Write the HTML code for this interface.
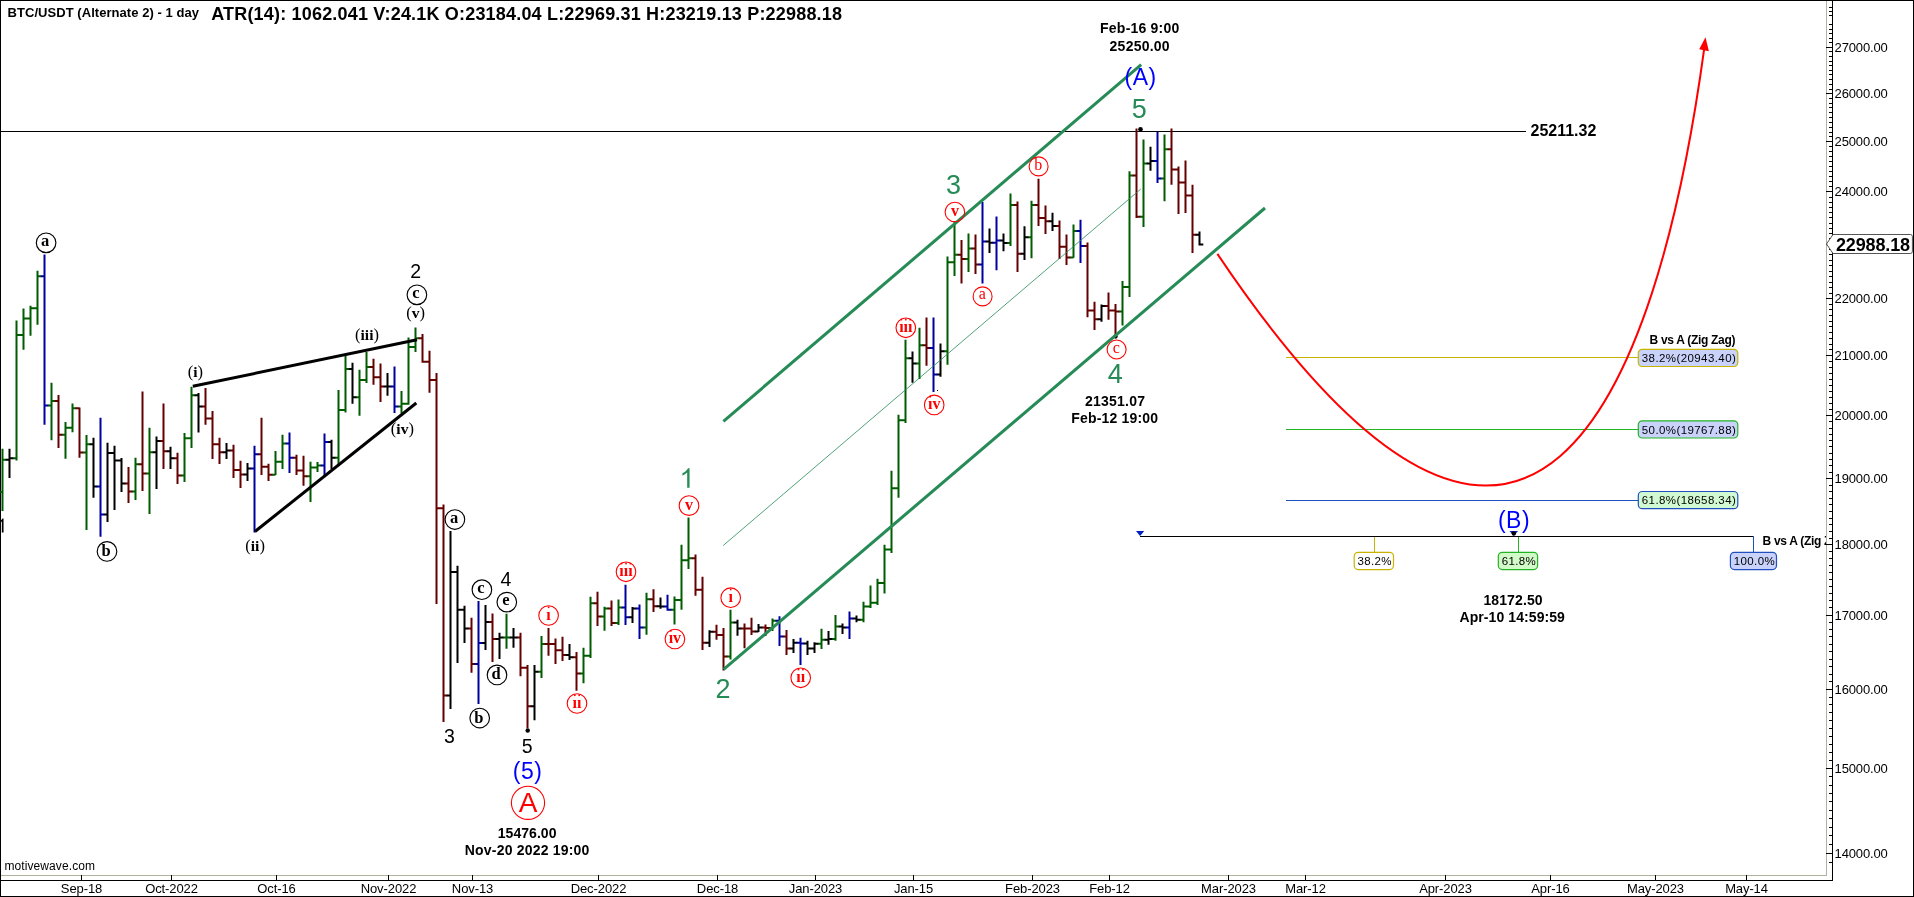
<!DOCTYPE html><html><head><meta charset="utf-8"><title>BTC/USDT</title>
<style>html,body{margin:0;padding:0;background:#fff;}body{width:1914px;height:897px;overflow:hidden;}svg{display:block;will-change:transform;}text{font-family:"Liberation Sans", sans-serif;}</style>
</head><body>
<svg width="1914" height="897" viewBox="0 0 1914 897">
<rect x="0" y="0" width="1914" height="897" fill="#ffffff"/>
<g shape-rendering="crispEdges">
<rect x="0.5" y="0.5" width="1913" height="896" fill="none" stroke="#000" stroke-width="1"/>
<path d="M1 875.5H1827M1826.5 1V876" stroke="#b2b2a0" stroke-width="1" fill="none"/>
<path d="M1 880.5H1833M1832.5 1V881" stroke="#000" stroke-width="1" fill="none"/>
<path d="M1829 862.5H1832M1826 853.5H1832M1829 844.5H1832M1829 835.5H1832M1829 827.5H1832M1829 818.5H1832M1829 810.5H1832M1829 801.5H1832M1829 793.5H1832M1829 785.5H1832M1829 776.5H1832M1826 768.5H1832M1829 760.5H1832M1829 752.5H1832M1829 744.5H1832M1829 736.5H1832M1829 728.5H1832M1829 720.5H1832M1829 712.5H1832M1829 704.5H1832M1829 697.5H1832M1826 689.5H1832M1829 681.5H1832M1829 674.5H1832M1829 666.5H1832M1829 659.5H1832M1829 651.5H1832M1829 644.5H1832M1829 636.5H1832M1829 629.5H1832M1829 622.5H1832M1826 615.5H1832M1829 607.5H1832M1829 600.5H1832M1829 593.5H1832M1829 586.5H1832M1829 579.5H1832M1829 572.5H1832M1829 565.5H1832M1829 558.5H1832M1829 551.5H1832M1826 544.5H1832M1829 538.5H1832M1829 531.5H1832M1829 524.5H1832M1829 518.5H1832M1829 511.5H1832M1829 504.5H1832M1829 498.5H1832M1829 491.5H1832M1829 485.5H1832M1826 478.5H1832M1829 472.5H1832M1829 465.5H1832M1829 459.5H1832M1829 453.5H1832M1829 446.5H1832M1829 440.5H1832M1829 434.5H1832M1829 428.5H1832M1829 421.5H1832M1826 415.5H1832M1829 409.5H1832M1829 403.5H1832M1829 397.5H1832M1829 391.5H1832M1829 385.5H1832M1829 379.5H1832M1829 373.5H1832M1829 367.5H1832M1829 361.5H1832M1826 355.5H1832M1829 349.5H1832M1829 344.5H1832M1829 338.5H1832M1829 332.5H1832M1829 326.5H1832M1829 321.5H1832M1829 315.5H1832M1829 309.5H1832M1829 304.5H1832M1826 298.5H1832M1829 293.5H1832M1829 287.5H1832M1829 282.5H1832M1829 276.5H1832M1829 271.5H1832M1829 265.5H1832M1829 260.5H1832M1829 254.5H1832M1829 249.5H1832M1826 244.5H1832M1829 238.5H1832M1829 233.5H1832M1829 228.5H1832M1829 223.5H1832M1829 217.5H1832M1829 212.5H1832M1829 207.5H1832M1829 202.5H1832M1829 197.5H1832M1826 191.5H1832M1829 186.5H1832M1829 181.5H1832M1829 176.5H1832M1829 171.5H1832M1829 166.5H1832M1829 161.5H1832M1829 156.5H1832M1829 151.5H1832M1829 146.5H1832M1826 141.5H1832M1829 136.5H1832M1829 132.5H1832M1829 127.5H1832M1829 122.5H1832M1829 117.5H1832M1829 112.5H1832M1829 107.5H1832M1829 103.5H1832M1829 98.5H1832M1826 93.5H1832M1829 89.5H1832M1829 84.5H1832M1829 79.5H1832M1829 74.5H1832M1829 70.5H1832M1829 65.5H1832M1829 61.5H1832M1829 56.5H1832M1829 51.5H1832M1826 47.5H1832M1829 42.5H1832M1829 38.5H1832M1829 33.5H1832M1829 29.5H1832M1829 24.5H1832M1829 15.5H1832M1829 11.5H1832M1829 7.5H1832" stroke="#000" stroke-width="1" fill="none"/>
<path d="M81.5 875V880M171.5 875V880M276.5 875V880M388.5 875V880M472.5 875V880M598.5 875V880M717.5 875V880M815.5 875V880M913.5 875V880M1032.5 875V880M1109.5 875V880M1228.5 875V880M1305.5 875V880M1445.5 875V880M1550.5 875V880M1655.5 875V880M1746.5 875V880" stroke="#000" stroke-width="1" fill="none"/>
</g>
<text x="1834.6" y="857.8" font-size="13" letter-spacing="-0.15">14000.00</text>
<text x="1834.6" y="773.1" font-size="13" letter-spacing="-0.15">15000.00</text>
<text x="1834.6" y="693.9" font-size="13" letter-spacing="-0.15">16000.00</text>
<text x="1834.6" y="619.5" font-size="13" letter-spacing="-0.15">17000.00</text>
<text x="1834.6" y="549.4" font-size="13" letter-spacing="-0.15">18000.00</text>
<text x="1834.6" y="483.0" font-size="13" letter-spacing="-0.15">19000.00</text>
<text x="1834.6" y="420.1" font-size="13" letter-spacing="-0.15">20000.00</text>
<text x="1834.6" y="360.2" font-size="13" letter-spacing="-0.15">21000.00</text>
<text x="1834.6" y="303.1" font-size="13" letter-spacing="-0.15">22000.00</text>
<text x="1834.6" y="196.3" font-size="13" letter-spacing="-0.15">24000.00</text>
<text x="1834.6" y="146.2" font-size="13" letter-spacing="-0.15">25000.00</text>
<text x="1834.6" y="98.1" font-size="13" letter-spacing="-0.15">26000.00</text>
<text x="1834.6" y="51.8" font-size="13" letter-spacing="-0.15">27000.00</text>
<text x="81.5" y="892.7" font-size="13" text-anchor="middle" letter-spacing="-0.1">Sep-18</text>
<text x="171.5" y="892.7" font-size="13" text-anchor="middle" letter-spacing="-0.1">Oct-2022</text>
<text x="276.5" y="892.7" font-size="13" text-anchor="middle" letter-spacing="-0.1">Oct-16</text>
<text x="388.5" y="892.7" font-size="13" text-anchor="middle" letter-spacing="-0.1">Nov-2022</text>
<text x="472.5" y="892.7" font-size="13" text-anchor="middle" letter-spacing="-0.1">Nov-13</text>
<text x="598.5" y="892.7" font-size="13" text-anchor="middle" letter-spacing="-0.1">Dec-2022</text>
<text x="717.5" y="892.7" font-size="13" text-anchor="middle" letter-spacing="-0.1">Dec-18</text>
<text x="815.5" y="892.7" font-size="13" text-anchor="middle" letter-spacing="-0.1">Jan-2023</text>
<text x="913.5" y="892.7" font-size="13" text-anchor="middle" letter-spacing="-0.1">Jan-15</text>
<text x="1032.5" y="892.7" font-size="13" text-anchor="middle" letter-spacing="-0.1">Feb-2023</text>
<text x="1109.5" y="892.7" font-size="13" text-anchor="middle" letter-spacing="-0.1">Feb-12</text>
<text x="1228.5" y="892.7" font-size="13" text-anchor="middle" letter-spacing="-0.1">Mar-2023</text>
<text x="1305.5" y="892.7" font-size="13" text-anchor="middle" letter-spacing="-0.1">Mar-12</text>
<text x="1445.5" y="892.7" font-size="13" text-anchor="middle" letter-spacing="-0.1">Apr-2023</text>
<text x="1550.5" y="892.7" font-size="13" text-anchor="middle" letter-spacing="-0.1">Apr-16</text>
<text x="1655.5" y="892.7" font-size="13" text-anchor="middle" letter-spacing="-0.1">May-2023</text>
<text x="1746.5" y="892.7" font-size="13" text-anchor="middle" letter-spacing="-0.1">May-14</text>
<text x="7.6" y="17.4" font-size="13" font-weight="bold" textLength="191.4" lengthAdjust="spacing">BTC/USDT (Alternate 2) - 1 day</text>
<text x="211.2" y="19.7" font-size="18" font-weight="bold" textLength="630.8" lengthAdjust="spacing">ATR(14): 1062.041 V:24.1K O:23184.04 L:22969.31 H:23219.13 P:22988.18</text>
<text x="4.4" y="869.8" font-size="12" letter-spacing="0.1">motivewave.com</text>
<g shape-rendering="crispEdges">
<path d="M1 131.5H1526" stroke="#000" stroke-width="1"/>
<path d="M1286 357.5H1638" stroke="#c8b400" stroke-width="1"/>
<path d="M1286 429.5H1638" stroke="#22b422" stroke-width="1"/>
<path d="M1286 500.5H1638" stroke="#2050c0" stroke-width="1"/>
<path d="M1140 536.5H1754" stroke="#000" stroke-width="1"/>
<path d="M1374.5 537V552" stroke="#c8b400" stroke-width="1"/>
<path d="M1518.5 537V552" stroke="#22b422" stroke-width="1"/>
<path d="M1753.5 536V552" stroke="#2050c0" stroke-width="1"/>
</g>
<path d="M2.5 448.8V511.0M-1.3 492.0H2.5M2.5 459.7H6.3M16.5 320.5V460.5M12.7 458.3H16.5M16.5 335.1H20.3M23.5 308.5V349.7M19.7 335.1H23.5M23.5 318.6H27.3M30.5 305.8V335.8M26.7 318.6H30.5M30.5 308.3H34.3M37.5 270.7V324.8M33.7 308.3H37.5M37.5 276.3H41.3M51.5 382.7V440.2M47.7 405.4H51.5M51.5 401.0H55.3M65.5 421.9V458.8M61.7 434.8H65.5M65.5 427.8H69.3M72.5 403.6V432.2M68.7 427.8H72.5M72.5 408.3H76.3M86.5 435.0V530.0M82.7 452.6H86.5M86.5 444.2H90.3M135.5 457.8V500.0M131.7 491.5H135.5M135.5 464.2H139.3M149.5 427.8V513.9M145.7 473.6H149.5M149.5 452.3H153.3M184.5 432.9V482.1M180.7 475.4H184.5M184.5 438.3H188.3M191.5 386.8V448.0M187.7 438.3H191.5M191.5 395.3H195.3M275.5 451.0V475.0M271.7 474.8H275.5M275.5 461.7H279.3M282.5 434.7V469.0M278.7 461.7H282.5M282.5 443.5H286.3M310.5 461.7V501.9M306.7 476.3H310.5M310.5 467.5H314.3M317.5 462.1V471.9M313.7 467.5H317.5M317.5 465.6H321.3M338.5 389.9V463.9M334.7 457.7H338.5M338.5 410.0H342.3M345.5 355.5V412.5M341.7 410.0H345.5M345.5 369.0H349.3M359.5 369.7V415.8M355.7 397.2H359.5M359.5 380.0H363.3M366.5 351.9V382.9M362.7 380.0H366.5M366.5 367.1H370.3M401.5 391.0V413.6M397.7 406.6H401.5M401.5 403.7H405.3M408.5 337.6V404.8M404.7 403.7H408.5M408.5 347.1H412.3M415.5 327.6V351.9M411.7 347.1H415.5M415.5 338.3H419.3M506.5 613.8V648.8M502.7 637.4H506.5M506.5 637.4H510.3M541.5 636.0V678.0M537.7 671.8H541.5M541.5 644.0H545.3M583.5 647.7V683.2M579.7 673.6H583.5M583.5 655.7H587.3M590.5 596.8V657.9M586.7 655.7H590.5M590.5 603.2H594.3M604.5 606.7V630.8M600.7 616.4H604.5M604.5 608.4H608.3M618.5 599.5V625.0M614.7 623.0H618.5M618.5 607.4H622.3M646.5 592.8V634.8M642.7 627.5H646.5M646.5 599.2H650.3M674.5 596.6V624.6M670.7 609.7H674.5M674.5 600.1H678.3M681.5 544.8V609.7M677.7 600.1H681.5M681.5 560.3H685.3M688.5 517.6V568.9M684.7 560.3H688.5M688.5 558.2H692.3M730.5 609.7V659.5M726.7 656.5H730.5M730.5 622.6H734.3M772.5 618.5V631.0M768.7 628.0H772.5M772.5 620.7H776.3M821.5 628.8V648.9M817.7 643.7H821.5M821.5 639.7H825.3M835.5 614.9V640.7M831.7 639.0H835.5M835.5 626.6H839.3M863.5 601.7V622.2M859.7 619.7H863.5M863.5 606.5H867.3M870.5 585.6V608.0M866.7 606.5H870.5M870.5 602.7H874.3M877.5 578.7V605.0M873.7 602.7H877.5M877.5 583.0H881.3M884.5 544.8V593.4M880.7 583.0H884.5M884.5 549.5H888.3M891.5 470.7V553.0M887.7 549.5H891.5M891.5 488.3H895.3M898.5 414.7V497.8M894.7 488.3H898.5M898.5 420.2H902.3M905.5 339.8V423.0M901.7 420.2H905.5M905.5 358.2H909.3M919.5 327.8V379.0M915.7 363.6H919.5M919.5 345.3H923.3M947.5 256.6V364.7M943.7 351.2H947.5M947.5 262.2H951.3M954.5 221.0V276.0M950.7 262.2H954.5M954.5 254.8H958.3M968.5 233.6V272.0M964.7 259.0H968.5M968.5 248.6H972.3M1010.5 193.4V246.0M1006.7 243.0H1010.5M1010.5 205.0H1014.3M1031.5 200.7V258.2M1027.7 237.3H1031.5M1031.5 205.0H1035.3M1073.5 224.6V257.8M1069.7 257.5H1073.5M1073.5 231.0H1077.3M1122.5 280.9V325.6M1118.7 311.4H1122.5M1122.5 287.0H1126.3M1129.5 171.2V297.0M1125.7 287.0H1129.5M1129.5 175.4H1133.3M1143.5 139.5V226.9M1139.7 216.8H1143.5M1143.5 163.4H1147.3M1164.5 134.5V201.2M1160.7 178.5H1164.5M1164.5 149.2H1168.3" stroke="#005c00" stroke-width="2" fill="none"/>
<path d="M58.5 394.9V448.0M54.7 401.0H58.5M58.5 434.8H62.3M79.5 407.6V457.8M75.7 408.3H79.5M79.5 452.6H83.3M128.5 467.0V502.9M124.7 483.4H128.5M128.5 491.5H132.3M142.5 391.5V490.9M138.7 464.2H142.5M142.5 473.6H146.3M163.5 403.6V469.0M159.7 441.0H163.5M163.5 451.2H167.3M177.5 452.8V483.9M173.7 458.3H177.5M177.5 475.4H181.3M205.5 388.0V424.8M201.7 406.6H205.5M205.5 418.6H209.3M212.5 411.0V459.0M208.7 418.6H212.5M212.5 444.2H216.3M219.5 437.7V463.9M215.7 444.2H219.5M219.5 452.3H223.3M233.5 444.8V478.0M229.7 450.4H233.5M233.5 470.0H237.3M240.5 460.8V488.0M236.7 470.0H240.5M240.5 474.4H244.3M261.5 417.8V475.1M257.7 454.2H261.5M261.5 466.8H265.3M268.5 463.7V481.0M264.7 466.8H268.5M268.5 474.8H272.3M296.5 454.8V474.9M292.7 457.7H296.5M296.5 470.5H300.3M303.5 455.8V485.8M299.7 470.5H303.5M303.5 476.3H307.3M373.5 358.8V384.7M369.7 367.1H373.5M373.5 377.3H377.3M380.5 363.6V401.9M376.7 377.3H380.5M380.5 386.6H384.3M422.5 333.9V362.7M418.7 338.3H422.5M422.5 361.7H426.3M429.5 350.7V392.7M425.7 361.7H429.5M429.5 380.0H433.3M436.5 373.0V603.9M432.7 380.0H436.5M436.5 508.3H440.3M443.5 504.6V722.0M439.7 508.3H443.5M443.5 695.5H447.3M471.5 617.8V672.8M467.7 628.4H471.5M471.5 664.0H475.3M492.5 613.6V662.0M488.7 622.0H492.5M492.5 638.9H496.3M520.5 632.7V676.2M516.7 637.4H520.5M520.5 667.8H524.3M527.5 664.9V728.3M523.7 667.8H527.5M527.5 706.3H531.3M548.5 627.9V655.7M544.7 644.0H548.5M548.5 644.0H552.3M555.5 638.6V664.0M551.7 644.0H555.5M555.5 650.3H559.3M562.5 636.7V661.0M558.7 650.3H562.5M562.5 655.0H566.3M576.5 652.0V690.8M572.7 657.2H576.5M576.5 673.6H580.3M597.5 591.7V626.0M593.7 603.2H597.5M597.5 616.4H601.3M611.5 600.5V626.0M607.7 608.4H611.5M611.5 623.0H615.3M653.5 589.2V612.0M649.7 599.2H653.5M653.5 606.3H657.3M695.5 554.6V595.8M691.7 558.2H695.5M695.5 589.7H699.3M702.5 576.7V650.0M698.7 589.7H702.5M702.5 642.7H706.3M716.5 624.7V639.7M712.7 631.7H716.5M716.5 634.9H720.3M723.5 628.0V670.4M719.7 634.9H723.5M723.5 656.5H727.3M744.5 623.6V648.2M740.7 628.5H744.5M744.5 628.5H748.3M751.5 617.8V634.9M747.7 628.5H751.5M751.5 631.4H755.3M765.5 624.4V636.0M761.7 627.6H765.5M765.5 628.0H769.3M786.5 630.0V655.0M782.7 636.4H786.5M786.5 648.5H790.3M926.5 317.6V365.8M922.7 345.3H926.5M926.5 348.0H930.3M961.5 239.9V283.4M957.7 254.8H961.5M961.5 259.0H965.3M975.5 234.4V274.0M971.7 248.6H975.5M975.5 264.4H979.3M1017.5 201.5V272.0M1013.7 205.0H1017.5M1017.5 253.7H1021.3M1038.5 178.8V225.9M1034.7 205.0H1038.5M1038.5 218.0H1042.3M1045.5 205.5V234.0M1041.7 218.0H1045.5M1045.5 221.2H1049.3M1059.5 220.5V258.9M1055.7 225.9H1059.5M1059.5 246.8H1063.3M1066.5 234.4V265.0M1062.7 246.8H1066.5M1066.5 257.5H1070.3M1087.5 242.4V317.3M1083.7 246.0H1087.5M1087.5 310.5H1091.3M1094.5 301.8V330.0M1090.7 310.5H1094.5M1094.5 319.3H1098.3M1108.5 292.6V319.7M1104.7 306.1H1108.5M1108.5 310.5H1112.3M1115.5 304.0V336.9M1111.7 310.5H1115.5M1115.5 311.4H1119.3M1136.5 128.6V218.0M1132.7 175.4H1136.5M1136.5 216.8H1140.3M1171.5 128.6V184.8M1167.7 149.2H1171.5M1171.5 169.6H1175.3M1178.5 166.5V214.1M1174.7 169.6H1178.5M1178.5 182.4H1182.3M1185.5 160.6V212.9M1181.7 182.4H1185.5M1185.5 195.4H1189.3M1192.5 184.8V253.0M1188.7 195.4H1192.5M1192.5 234.7H1196.3" stroke="#640000" stroke-width="2" fill="none"/>
<path d="M9.5 448.8V478.0M5.7 459.7H9.5M9.5 458.3H13.3M93.5 437.7V497.8M89.7 444.2H93.5M93.5 486.5H97.3M107.5 442.8V521.9M103.7 514.6H107.5M107.5 453.0H111.3M114.5 445.8V509.9M110.7 453.0H114.5M114.5 460.4H118.3M121.5 458.0V491.9M117.7 460.4H121.5M121.5 483.4H125.3M156.5 436.5V489.0M152.7 452.3H156.5M156.5 441.0H160.3M170.5 446.7V469.0M166.7 451.2H170.5M170.5 458.3H174.3M198.5 393.0V432.5M194.7 395.3H198.5M198.5 406.6H202.3M226.5 442.9V459.0M222.7 452.3H226.5M226.5 450.4H230.3M247.5 463.0V481.0M243.7 474.4H247.5M247.5 468.6H251.3M331.5 439.8V469.0M327.7 442.0H331.5M331.5 457.7H335.3M352.5 362.7V403.7M348.7 369.0H352.5M352.5 397.2H356.3M387.5 373.0V395.8M383.7 386.6H387.5M387.5 386.6H391.3M450.5 531.0V708.9M446.7 695.5H450.5M450.5 571.9H454.3M457.5 565.8V663.0M453.7 571.9H457.5M457.5 609.8H461.3M464.5 605.8V643.0M460.7 609.8H464.5M464.5 628.4H468.3M485.5 604.9V649.9M481.7 643.0H485.5M485.5 622.0H489.3M499.5 632.7V658.9M495.7 638.9H499.5M499.5 637.4H503.3M513.5 627.9V647.7M509.7 637.4H513.5M513.5 637.4H517.3M534.5 664.9V720.2M530.7 706.3H534.5M534.5 671.8H538.3M569.5 644.0V660.0M565.7 655.0H569.5M569.5 657.2H573.3M632.5 607.0V623.0M628.7 617.2H632.5M632.5 608.4H636.3M660.5 597.5V608.7M656.7 606.3H660.5M660.5 606.6H664.3M709.5 630.2V647.0M705.7 642.7H709.5M709.5 631.7H713.3M737.5 619.7V635.8M733.7 622.6H737.5M737.5 628.5H741.3M758.5 623.9V632.0M754.7 631.4H758.5M758.5 627.6H762.3M793.5 639.0V652.9M789.7 648.5H793.5M793.5 642.7H797.3M807.5 640.7V655.0M803.7 643.4H807.5M807.5 648.5H811.3M814.5 642.2V652.9M810.7 648.5H814.5M814.5 643.7H818.3M828.5 630.9V644.8M824.7 639.7H828.5M828.5 639.0H832.3M842.5 623.6V633.9M838.7 626.6H842.5M842.5 627.6H846.3M856.5 615.6V622.2M852.7 618.5H856.5M856.5 619.7H860.3M912.5 351.5V382.7M908.7 358.2H912.5M912.5 363.6H916.3M940.5 343.6V376.8M936.7 374.6H940.5M940.5 351.2H944.3M989.5 228.5V253.0M985.7 241.4H989.5M989.5 242.8H993.3M1003.5 233.6V251.2M999.7 240.5H1003.5M1003.5 243.0H1007.3M1024.5 226.3V260.0M1020.7 253.7H1024.5M1024.5 237.3H1028.3M1052.5 212.7V231.0M1048.7 221.2H1052.5M1052.5 225.9H1056.3M1101.5 304.4V321.7M1097.7 319.3H1101.5M1101.5 306.1H1105.3M1150.5 146.8V170.7M1146.7 163.4H1150.5M1150.5 160.9H1154.3M1199.5 231.6V245.6M1195.7 234.7H1199.5M1199.5 244.5H1203.3" stroke="#000000" stroke-width="2" fill="none"/>
<path d="M44.5 254.6V424.8M40.7 276.3H44.5M44.5 405.4H48.3M100.5 417.8V536.8M96.7 486.5H100.5M100.5 514.6H104.3M254.5 445.8V532.4M250.7 468.6H254.5M254.5 454.2H258.3M289.5 432.6V473.0M285.7 443.5H289.5M289.5 457.7H293.3M324.5 433.5V474.9M320.7 465.6H324.5M324.5 442.0H328.3M394.5 366.5V412.9M390.7 386.6H394.5M394.5 406.6H398.3M478.5 600.9V704.1M474.7 664.0H478.5M478.5 643.0H482.3M625.5 584.8V625.0M621.7 607.4H625.5M625.5 617.2H629.3M639.5 604.6V638.9M635.7 608.4H639.5M639.5 627.5H643.3M667.5 594.7V610.8M663.7 606.6H667.5M667.5 609.7H671.3M779.5 616.3V646.0M775.7 620.7H779.5M779.5 636.4H783.3M800.5 637.8V665.0M796.7 642.7H800.5M800.5 643.4H804.3M849.5 611.5V639.0M845.7 627.6H849.5M849.5 618.5H853.3M933.5 317.6V391.9M929.7 348.0H933.5M933.5 374.6H937.3M982.5 201.9V283.4M978.7 264.4H982.5M982.5 241.4H986.3M996.5 216.5V270.2M992.7 242.8H996.5M996.5 240.5H1000.3M1080.5 219.7V262.9M1076.7 231.0H1080.5M1080.5 246.0H1084.3M1157.5 131.7V182.9M1153.7 160.9H1157.5M1157.5 178.5H1161.3" stroke="#0000a0" stroke-width="2" fill="none"/>
<circle cx="1115.6" cy="336.6" r="2.1" fill="#000"/>
<line x1="723.4" y1="421.3" x2="1141.2" y2="64.6" stroke="#268b56" stroke-width="3.05" />
<line x1="723.6" y1="669.4" x2="1265" y2="208" stroke="#268b56" stroke-width="3.05" />
<line x1="723.2" y1="545.5" x2="1140.8" y2="189" stroke="#268b56" stroke-width="1" stroke-opacity="0.8"/>
<line x1="192.8" y1="386.3" x2="417" y2="339.7" stroke="#000" stroke-width="3.0" />
<line x1="255" y1="531.5" x2="416.3" y2="403" stroke="#000" stroke-width="3.0" />
<path d="M1217.4 253.9C1529.7 718.4 1656.6 397.4 1704.3 48" stroke="#ff0000" stroke-width="2" fill="none"/>
<polygon points="1705.5,37.3 1699.2,49.3 1708.9,51.2" fill="#ff0000"/>
<rect x="937" y="390" width="1" height="1" fill="#000"/>
<circle cx="527.7" cy="730.5" r="2.2" fill="#000"/>
<circle cx="1140.5" cy="129.3" r="2.3" fill="#000"/>
<polygon points="1136,531 1144.2,531 1140.1,536" fill="#0020c0"/>
<polygon points="1509.5,531 1518,531 1513.8,536" fill="#0020c0"/>
<circle cx="1513.8" cy="533.4" r="2.2" fill="#000"/>
<circle cx="46.1" cy="242.8" r="9.8" fill="none" stroke="#000" stroke-width="1.15"/>
<text x="45.2" y="245.8" font-size="16.5" text-anchor="middle" fill="#000" style="font-family:'Liberation Serif', serif;font-weight:bold;">a</text>
<circle cx="107.0" cy="551.4" r="9.8" fill="none" stroke="#000" stroke-width="1.15"/>
<text x="106.1" y="555.9" font-size="16.5" text-anchor="middle" fill="#000" style="font-family:'Liberation Serif', serif;font-weight:bold;">b</text>
<circle cx="416.9" cy="294.8" r="9.8" fill="none" stroke="#000" stroke-width="1.15"/>
<text x="416.0" y="297.8" font-size="16.5" text-anchor="middle" fill="#000" style="font-family:'Liberation Serif', serif;font-weight:bold;">c</text>
<circle cx="454.9" cy="519.5" r="9.8" fill="none" stroke="#000" stroke-width="1.15"/>
<text x="454.0" y="522.5" font-size="16.5" text-anchor="middle" fill="#000" style="font-family:'Liberation Serif', serif;font-weight:bold;">a</text>
<circle cx="481.9" cy="589.7" r="9.8" fill="none" stroke="#000" stroke-width="1.15"/>
<text x="481.0" y="592.7" font-size="16.5" text-anchor="middle" fill="#000" style="font-family:'Liberation Serif', serif;font-weight:bold;">c</text>
<circle cx="506.8" cy="602.1" r="9.8" fill="none" stroke="#000" stroke-width="1.15"/>
<text x="505.9" y="605.1" font-size="16.5" text-anchor="middle" fill="#000" style="font-family:'Liberation Serif', serif;font-weight:bold;">e</text>
<circle cx="497.0" cy="674.9" r="9.8" fill="none" stroke="#000" stroke-width="1.15"/>
<text x="496.1" y="679.4" font-size="16.5" text-anchor="middle" fill="#000" style="font-family:'Liberation Serif', serif;font-weight:bold;">d</text>
<circle cx="479.7" cy="718.0" r="9.8" fill="none" stroke="#000" stroke-width="1.15"/>
<text x="478.8" y="722.5" font-size="16.5" text-anchor="middle" fill="#000" style="font-family:'Liberation Serif', serif;font-weight:bold;">b</text>
<text x="195.3" y="376.9" font-size="16.5" text-anchor="middle" style="font-family:'Liberation Serif',serif;"><tspan>(</tspan><tspan font-weight="bold" font-size="15.5">i</tspan><tspan>)</tspan></text>
<text x="255.1" y="550.8" font-size="16.5" text-anchor="middle" style="font-family:'Liberation Serif',serif;"><tspan>(</tspan><tspan font-weight="bold" font-size="15.5">ii</tspan><tspan>)</tspan></text>
<text x="367.0" y="340.2" font-size="16.5" text-anchor="middle" style="font-family:'Liberation Serif',serif;"><tspan>(</tspan><tspan font-weight="bold" font-size="15.5">iii</tspan><tspan>)</tspan></text>
<text x="402.4" y="433.7" font-size="16.5" text-anchor="middle" style="font-family:'Liberation Serif',serif;"><tspan>(</tspan><tspan font-weight="bold" font-size="15.5">iv</tspan><tspan>)</tspan></text>
<text x="415.6" y="317.9" font-size="16.5" text-anchor="middle" style="font-family:'Liberation Serif',serif;"><tspan>(</tspan><tspan font-weight="bold" font-size="15.5">v</tspan><tspan>)</tspan></text>
<path d="M3.54 532.40 L1.83 532.40 L1.83 521.48 Q1.21 522.07 0.21 522.66 Q-0.80 523.25 -1.60 523.55 L-1.60 521.89 Q-0.16 521.21 0.91 520.25 Q1.99 519.29 2.44 518.38 L3.54 518.38 Z" fill="#000"/>
<text x="415.6" y="277.8" font-size="19.5" text-anchor="middle" fill="#000" style="font-family:'Liberation Sans', sans-serif;">2</text>
<text x="449.4" y="743.4" font-size="19.5" text-anchor="middle" fill="#000" style="font-family:'Liberation Sans', sans-serif;">3</text>
<text x="506.0" y="585.6" font-size="19.5" text-anchor="middle" fill="#000" style="font-family:'Liberation Sans', sans-serif;">4</text>
<text x="527.3" y="752.6" font-size="19.5" text-anchor="middle" fill="#000" style="font-family:'Liberation Sans', sans-serif;">5</text>
<text x="527.6" y="779.3" font-size="23" text-anchor="middle" fill="#0000ff" style="font-family:'Liberation Sans', sans-serif;" letter-spacing="0.5">(5)</text>
<text x="1140.6" y="85.0" font-size="23" text-anchor="middle" fill="#0000ff" style="font-family:'Liberation Sans', sans-serif;" letter-spacing="0.5">(A)</text>
<text x="1514.0" y="527.6" font-size="23" text-anchor="middle" fill="#0000ff" style="font-family:'Liberation Sans', sans-serif;" letter-spacing="0.5">(B)</text>
<circle cx="528.0" cy="802.8" r="16.6" fill="none" stroke="#ff0000" stroke-width="1.1"/>
<text x="528.0" y="812.2" font-size="28" text-anchor="middle" fill="#ff0000" style="font-family:'Liberation Sans', sans-serif;">A</text>
<path d="M689.55 487.70 L687.18 487.70 L687.18 472.58 Q686.32 473.40 684.93 474.21 Q683.54 475.03 682.43 475.44 L682.43 473.15 Q684.42 472.21 685.91 470.88 Q687.40 469.55 688.02 468.29 L689.55 468.29 Z" fill="#268b56"/>
<text x="722.9" y="698.4" font-size="27" text-anchor="middle" fill="#268b56" style="font-family:'Liberation Sans', sans-serif;">2</text>
<text x="953.4" y="193.5" font-size="27" text-anchor="middle" fill="#268b56" style="font-family:'Liberation Sans', sans-serif;">3</text>
<text x="1115.3" y="382.7" font-size="27" text-anchor="middle" fill="#268b56" style="font-family:'Liberation Sans', sans-serif;">4</text>
<text x="1139.2" y="117.5" font-size="27" text-anchor="middle" fill="#268b56" style="font-family:'Liberation Sans', sans-serif;">5</text>
<circle cx="548.6" cy="615.5" r="9.8" fill="none" stroke="#ff0000" stroke-width="1.1"/>
<text x="548.6" y="619.5" font-size="16" text-anchor="middle" fill="#ff0000" style="font-family:'Liberation Serif', serif;font-weight:bold;">ı</text>
<rect x="547.8" y="606.5" width="1.6" height="1.6" fill="#ff0000"/>
<circle cx="577.0" cy="703.5" r="9.8" fill="none" stroke="#ff0000" stroke-width="1.1"/>
<text x="577.0" y="707.5" font-size="16" text-anchor="middle" fill="#ff0000" style="font-family:'Liberation Serif', serif;font-weight:bold;">ıı</text>
<rect x="574.0" y="694.5" width="1.6" height="1.6" fill="#ff0000"/>
<rect x="578.4" y="694.5" width="1.6" height="1.6" fill="#ff0000"/>
<circle cx="626.0" cy="571.8" r="9.8" fill="none" stroke="#ff0000" stroke-width="1.1"/>
<text x="626.0" y="575.8" font-size="16" text-anchor="middle" fill="#ff0000" style="font-family:'Liberation Serif', serif;font-weight:bold;">ııı</text>
<rect x="620.8" y="562.8" width="1.6" height="1.6" fill="#ff0000"/>
<rect x="625.2" y="562.8" width="1.6" height="1.6" fill="#ff0000"/>
<rect x="629.6" y="562.8" width="1.6" height="1.6" fill="#ff0000"/>
<circle cx="674.9" cy="639.0" r="9.8" fill="none" stroke="#ff0000" stroke-width="1.1"/>
<text x="674.9" y="643.0" font-size="16" text-anchor="middle" fill="#ff0000" style="font-family:'Liberation Serif', serif;font-weight:bold;">ıv</text>
<rect x="670.1" y="630.0" width="1.6" height="1.6" fill="#ff0000"/>
<circle cx="689.0" cy="505.6" r="9.8" fill="none" stroke="#ff0000" stroke-width="1.1"/>
<text x="689.0" y="509.6" font-size="16" text-anchor="middle" fill="#ff0000" style="font-family:'Liberation Serif', serif;font-weight:bold;">v</text>
<circle cx="730.7" cy="597.7" r="9.8" fill="none" stroke="#ff0000" stroke-width="1.1"/>
<text x="730.7" y="601.7" font-size="16" text-anchor="middle" fill="#ff0000" style="font-family:'Liberation Serif', serif;font-weight:bold;">ı</text>
<rect x="729.9" y="588.7" width="1.6" height="1.6" fill="#ff0000"/>
<circle cx="800.7" cy="677.8" r="9.8" fill="none" stroke="#ff0000" stroke-width="1.1"/>
<text x="800.7" y="681.8" font-size="16" text-anchor="middle" fill="#ff0000" style="font-family:'Liberation Serif', serif;font-weight:bold;">ıı</text>
<rect x="797.7" y="668.8" width="1.6" height="1.6" fill="#ff0000"/>
<rect x="802.1" y="668.8" width="1.6" height="1.6" fill="#ff0000"/>
<circle cx="905.8" cy="327.8" r="9.8" fill="none" stroke="#ff0000" stroke-width="1.1"/>
<text x="905.8" y="331.8" font-size="16" text-anchor="middle" fill="#ff0000" style="font-family:'Liberation Serif', serif;font-weight:bold;">ııı</text>
<rect x="900.6" y="318.8" width="1.6" height="1.6" fill="#ff0000"/>
<rect x="905.0" y="318.8" width="1.6" height="1.6" fill="#ff0000"/>
<rect x="909.4" y="318.8" width="1.6" height="1.6" fill="#ff0000"/>
<circle cx="934.2" cy="404.9" r="9.8" fill="none" stroke="#ff0000" stroke-width="1.1"/>
<text x="934.2" y="408.9" font-size="16" text-anchor="middle" fill="#ff0000" style="font-family:'Liberation Serif', serif;font-weight:bold;">ıv</text>
<rect x="929.4" y="395.9" width="1.6" height="1.6" fill="#ff0000"/>
<circle cx="954.9" cy="212.0" r="9.8" fill="none" stroke="#ff0000" stroke-width="1.1"/>
<text x="954.9" y="216.0" font-size="16" text-anchor="middle" fill="#ff0000" style="font-family:'Liberation Serif', serif;font-weight:bold;">v</text>
<circle cx="982.6" cy="296.4" r="9.5" fill="none" stroke="#ff0000" stroke-width="1.1"/>
<text x="982.3" y="299.2" font-size="16" text-anchor="middle" fill="#ff0000" style="font-family:'Liberation Serif', serif;">a</text>
<circle cx="1038.6" cy="166.4" r="9.5" fill="none" stroke="#ff0000" stroke-width="1.1"/>
<text x="1038.3" y="169.9" font-size="16" text-anchor="middle" fill="#ff0000" style="font-family:'Liberation Serif', serif;">b</text>
<circle cx="1116.6" cy="349.5" r="9.5" fill="none" stroke="#ff0000" stroke-width="1.1"/>
<text x="1116.3" y="353.1" font-size="16" text-anchor="middle" fill="#ff0000" style="font-family:'Liberation Serif', serif;">c</text>
<text x="527.1" y="837.6" font-size="14" font-weight="bold" text-anchor="middle" textLength="58.8" lengthAdjust="spacing">15476.00</text>
<text x="527.1" y="854.6" font-size="14" font-weight="bold" text-anchor="middle" textLength="124.6" lengthAdjust="spacing">Nov-20 2022 19:00</text>
<text x="1139.7" y="33.4" font-size="14" font-weight="bold" text-anchor="middle" textLength="79.2" lengthAdjust="spacing">Feb-16 9:00</text>
<text x="1139.6" y="51.0" font-size="14" font-weight="bold" text-anchor="middle" textLength="60.0" lengthAdjust="spacing">25250.00</text>
<text x="1115.0" y="405.7" font-size="14" font-weight="bold" text-anchor="middle" textLength="60.2" lengthAdjust="spacing">21351.07</text>
<text x="1114.7" y="422.7" font-size="14" font-weight="bold" text-anchor="middle" textLength="86.8" lengthAdjust="spacing">Feb-12 19:00</text>
<text x="1513.0" y="604.7" font-size="14" font-weight="bold" text-anchor="middle" textLength="59.2" lengthAdjust="spacing">18172.50</text>
<text x="1512.2" y="622.0" font-size="14" font-weight="bold" text-anchor="middle" textLength="105.4" lengthAdjust="spacing">Apr-10 14:59:59</text>
<text x="1530.5" y="135.6" font-size="16" font-weight="bold" text-anchor="start">25211.32</text>
<rect x="1638.3" y="349.3" width="99.5" height="17.2" rx="4" ry="4" fill="#c8d2fa" stroke="#c8b400" stroke-width="1.2"/>
<text x="1688.8" y="362.1" font-size="11.5" text-anchor="middle" textLength="94.0" lengthAdjust="spacing">38.2%(20943.40)</text>
<rect x="1638.3" y="420.8" width="99.5" height="17.2" rx="4" ry="4" fill="#c8d2fa" stroke="#22b422" stroke-width="1.2"/>
<text x="1688.8" y="433.6" font-size="11.5" text-anchor="middle" textLength="94.0" lengthAdjust="spacing">50.0%(19767.88)</text>
<rect x="1638.3" y="491.5" width="99.5" height="17.2" rx="4" ry="4" fill="#d2fad2" stroke="#2050c0" stroke-width="1.2"/>
<text x="1688.8" y="504.3" font-size="11.5" text-anchor="middle" textLength="94.0" lengthAdjust="spacing">61.8%(18658.34)</text>
<rect x="1354.2" y="552.3" width="39.3" height="17.3" rx="4" ry="4" fill="#ffffff" stroke="#c8b400" stroke-width="1.2"/>
<text x="1374.6" y="565.2" font-size="11.5" text-anchor="middle" textLength="34.0" lengthAdjust="spacing">38.2%</text>
<rect x="1498.3" y="552.3" width="39.3" height="17.3" rx="4" ry="4" fill="#d2fac8" stroke="#22b422" stroke-width="1.2"/>
<text x="1518.7" y="565.2" font-size="11.5" text-anchor="middle" textLength="34.0" lengthAdjust="spacing">61.8%</text>
<rect x="1730.4" y="552.3" width="46.1" height="17.3" rx="4" ry="4" fill="#c8d2fa" stroke="#2050c0" stroke-width="1.2"/>
<text x="1754.2" y="565.2" font-size="11.5" text-anchor="middle" textLength="41.0" lengthAdjust="spacing">100.0%</text>
<text x="1649.5" y="344" font-size="12" font-weight="bold" letter-spacing="-0.3">B vs A (Zig Zag)</text>
<clipPath id="cp"><rect x="1700" y="520" width="126" height="40"/></clipPath>
<text x="1762.5" y="544.7" font-size="12" font-weight="bold" letter-spacing="-0.3" clip-path="url(#cp)">B vs A (Zig Zag)</text>
<path d="M1826.5 244 L1833 234.5 H1910.4 Q1912.4 234.5 1912.4 236.5 V251.5 Q1912.4 253.5 1910.4 253.5 H1833 Z" fill="#fff" stroke="#555" stroke-width="1"/>
<text x="1836" y="250.8" font-size="18" font-weight="bold" textLength="74" lengthAdjust="spacing">22988.18</text>
</svg></body></html>
